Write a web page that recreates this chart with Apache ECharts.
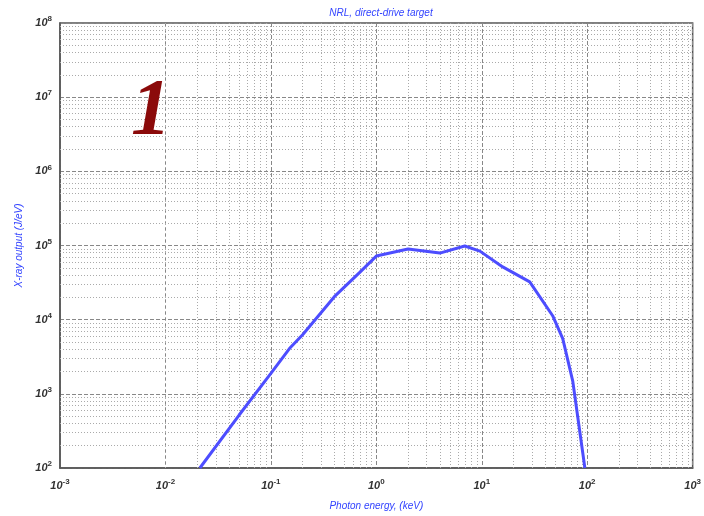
<!DOCTYPE html>
<html>
<head>
<meta charset="utf-8">
<script src="https://cdn.jsdelivr.net/npm/echarts@6/dist/echarts.min.js"></script>
<style>
  html, body { margin: 0; padding: 0; background: #fff; }
  #chart { width: 704px; height: 516px; }
</style>
</head>
<body>
<div id="chart"></div>
<script>
const photonEnergy = [0.0212, 0.05, 0.1, 0.15, 0.2, 0.4, 0.7, 1, 2, 4, 6.9, 9.6, 15.8, 28.5, 47, 58.6, 73, 95];
const xrayOutput = [100, 518, 1885, 4080, 6270, 20400, 43700, 72000, 89800, 79000, 98500, 84000, 51400, 32300, 11300, 5560, 1470, 100];

const titleText = "NRL, direct-drive target";
const xName = "Photon energy, (keV)";
const yName = "X-ray output (J/eV)";
const panelLabel = "1";

const xDecades = [-3, -2, -1, 0, 1, 2];
const yDecades = [2, 3, 4, 5, 6, 7];

// minor grid at 2..9 within each decade
const minorX = [];
xDecades.forEach(d => { for (let k = 2; k <= 9; k++) minorX.push({ xAxis: k * Math.pow(10, d) }); });
const minorY = [];
yDecades.forEach(d => { for (let k = 2; k <= 9; k++) minorY.push({ yAxis: k * Math.pow(10, d) }); });

const powLabel = v => {
  const e = Math.round(Math.log10(v));
  return "{b|10}{s|" + e + "}";
};
const labelRich = {
  b: { fontFamily: "Liberation Sans", fontSize: 11, fontWeight: "bold", fontStyle: "italic", color: "#333" },
  s: { fontFamily: "Liberation Sans", fontSize: 8, fontWeight: "bold", color: "#333", padding: [0, 0, 8, 0] }
};
const blueText = { fontFamily: "Liberation Sans", fontSize: 10, fontStyle: "italic", fontWeight: "normal", color: "#3344ff" };

const chart = echarts.init(document.getElementById("chart"), null, { renderer: "canvas" });
chart.setOption({
  animation: false,
  backgroundColor: "#fff",
  title: {
    text: titleText,
    left: 376, top: 3, textAlign: "center",
    textStyle: blueText
  },
  grid: { left: 60, right: 11, top: 23, bottom: 46, show: true, borderColor: "#555", borderWidth: 1.5 },
  xAxis: {
    type: "log", logBase: 10, min: 1e-3, max: 1e3, interval: 1,
    name: xName, nameLocation: "middle", nameGap: 33,
    nameTextStyle: blueText,
    axisLine: { show: true, lineStyle: { color: "#555", width: 1.5 } },
    axisTick: { show: false },
    axisLabel: { formatter: powLabel, rich: labelRich, margin: 10 },
    splitLine: { show: true, lineStyle: { color: "#888", type: [4, 2], width: 1 } }
  },
  yAxis: {
    type: "log", logBase: 10, min: 1e2, max: 1e8, interval: 1,
    name: yName, nameLocation: "middle", nameGap: 36, nameRotate: 90,
    nameTextStyle: blueText,
    axisLine: { show: true, lineStyle: { color: "#555", width: 1.5 } },
    axisTick: { show: false },
    axisLabel: { formatter: powLabel, rich: labelRich, margin: 8 },
    splitLine: { show: true, lineStyle: { color: "#888", type: [4, 2], width: 1 } }
  },
  series: [
    {
      type: "line", data: [], silent: true, z: 1,
      markLine: {
        silent: true, symbol: "none", label: { show: false },
        lineStyle: { color: "#aaa", type: [1, 2], width: 1 },
        data: minorX.concat(minorY)
      }
    },
    {
      type: "line", z: 5,
      data: photonEnergy.map((e, i) => [e, xrayOutput[i]]),
      showSymbol: false, smooth: false,
      lineStyle: { color: "#4d4dff", width: 3 }
    }
  ],
  graphic: [{
    type: "text", left: 131, top: 73, z: 10,
    style: { text: panelLabel, font: "italic bold 80px 'Liberation Serif'", fill: "#8b0a0a" }
  }]
});
</script>
</body>
</html>
